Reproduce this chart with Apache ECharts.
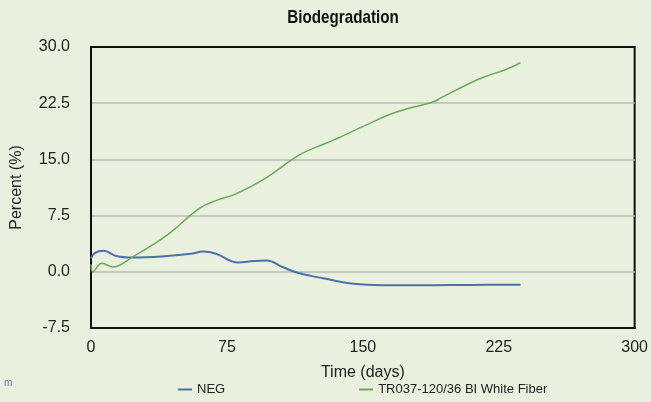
<!DOCTYPE html>
<html><head><meta charset="utf-8">
<script src="https://cdn.jsdelivr.net/npm/echarts@6/dist/echarts.min.js"></script>
<style>html,body{margin:0;padding:0;background:#e9f0dd;}#c{width:651px;height:402px;}</style>
</head><body><div id="c"></div>
<script>
const title = "Biodegradation";
const xTicks = [0, 75, 150, 225, 300];
const yTicks = [-7.5, 0, 7.5, 15, 22.5, 30];
const negDays = [0, 2, 7, 14, 23, 42, 55, 62, 69, 81, 90, 97, 106, 115, 128, 145, 161, 188, 210, 226, 237];
const negVals = [1.8, 2.5, 2.8, 2.1, 1.9, 2.1, 2.4, 2.7, 2.4, 1.25, 1.45, 1.5, 0.6, -0.2, -0.85, -1.6, -1.78, -1.78, -1.76, -1.73, -1.73];
const fibDays = [0, 1, 6, 12, 23, 42, 60, 70, 79, 95, 115, 125, 134, 152, 167, 189, 193, 211, 218, 229, 237];
const fibVals = [1.0, 0.0, 1.15, 0.65, 2.0, 4.9, 8.5, 9.6, 10.3, 12.3, 15.6, 16.7, 17.6, 19.6, 21.2, 22.7, 23.2, 25.4, 26.1, 27.0, 27.9];
const seriesNames = ["NEG", "TR037-120/36 BI White Fiber"];

const chart = echarts.init(document.getElementById('c'), null, {renderer: 'canvas'});
const pair = (xs, ys) => xs.map((x, i) => [x, ys[i]]);
chart.setOption({
  backgroundColor: '#e9f0dd',
  animation: false,
  legend: {bottom: 1, left: 173, itemGap: 134, itemWidth: 14, itemHeight: 2, icon: 'rect',
    textStyle: {fontFamily: 'Liberation Sans', fontSize: 13, color: '#222'},
    data: seriesNames},
  grid: {left: 91, right: 16, top: 47, bottom: 74, show: true, borderColor: '#111', borderWidth: 2, backgroundColor: 'transparent'},
  xAxis: {type: 'value', min: xTicks[0], max: xTicks[xTicks.length - 1], interval: 75,
    name: 'Time (days)', nameLocation: 'middle', nameGap: 37,
    nameTextStyle: {fontFamily: 'Liberation Sans', fontSize: 16, color: '#222'},
    axisLine: {show: true, onZero: false, lineStyle: {color: '#111', width: 2}},
    axisTick: {show: false}, splitLine: {show: false},
    axisLabel: {margin: 12, fontFamily: 'Liberation Sans', fontSize: 16, color: '#222'}},
  yAxis: {type: 'value', min: yTicks[0], max: yTicks[yTicks.length - 1], interval: 7.5,
    name: 'Percent (%)', nameLocation: 'middle', nameGap: 66, nameRotate: 90,
    nameTextStyle: {fontFamily: 'Liberation Sans', fontSize: 16, color: '#222'},
    axisLine: {show: true, onZero: false, lineStyle: {color: '#111', width: 2}},
    axisTick: {show: false},
    splitLine: {show: true, showMinLine: false, showMaxLine: false, lineStyle: {color: '#b9bbb6', width: 1.5}},
    axisLabel: {margin: 21, fontFamily: 'Liberation Sans', fontSize: 16, color: '#222',
      formatter: v => v.toFixed(1)}},
  graphic: [
    {type: 'text', x: 343, y: 18, scaleX: 0.8, originX: 0,
      style: {text: title, fontFamily: 'Liberation Sans', fontSize: 19, fontWeight: 'bold', fill: '#111',
        textAlign: 'center', textVerticalAlign: 'middle'}},
    {type: 'text', left: 4, top: 378, style: {text: 'm', fontSize: 10, fill: '#6a7aa0', fontFamily: 'Liberation Sans'}}
  ],
  series: [
    {name: seriesNames[0], type: 'line', smooth: 0.4, showSymbol: false, data: pair(negDays, negVals),
      lineStyle: {color: '#4a72b0', width: 2}, itemStyle: {color: '#4a72b0'}},
    {name: seriesNames[1], type: 'line', smooth: 0.4, showSymbol: false, data: pair(fibDays, fibVals),
      lineStyle: {color: '#6aaa5a', width: 1.5}, itemStyle: {color: '#6aaa5a'}}
  ]
});
</script></body></html>
